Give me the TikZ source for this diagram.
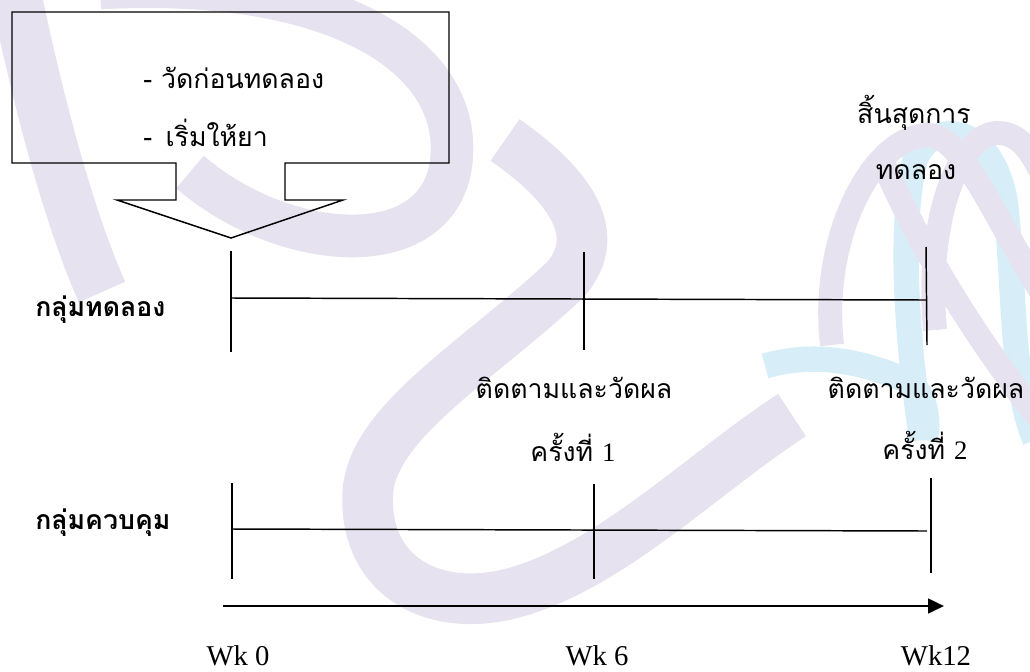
\documentclass[tikz,border=0pt]{standalone}
\usepackage{fontspec}
\setmainfont{Liberation Serif}
\newfontfamily\thai[Script=Thai]{Loma}
\usetikzlibrary{arrows.meta}
\definecolor{wmlav}{RGB}{231,226,240}
\definecolor{wmcyan}{RGB}{215,238,248}
\begin{document}
\begin{tikzpicture}[x=0.75pt,y=-0.75pt,
  thaitxt/.style={font=\thai\fontsize{20}{24}\selectfont, inner sep=0pt},
  grp/.style={font=\thai\bfseries\fontsize{20}{24}\selectfont, inner sep=0pt},
  wk/.style={font=\fontsize{21.5}{26}\selectfont, inner sep=0pt},
  ln/.style={line width=1.1pt, black},
  axis/.style={line width=2pt, black, -{Triangle[length=12pt,width=11pt]}},
  wm/.style={line width=38pt, wmlav},
  wmc/.style={line width=19pt, wmcyan}
]
\useasboundingbox (0,0) rectangle (1030,671);
% watermark
\begin{scope}
\clip (0,0) rectangle (1030,671);
\draw[wm] (15,-10) .. controls (40,110) and (70,220) .. (102,292);
\draw[wm, line width=32pt] (100,-12) .. controls (340,-25) and (470,60) .. (450,170) .. controls (430,265) and (280,250) .. (190,172);
\draw[wm] (505,140) .. controls (570,185) and (605,235) .. (565,280) .. controls (480,360) and (375,420) .. (368,490) .. controls (362,570) and (425,612) .. (505,595) .. controls (605,572) and (700,475) .. (792,415);
\draw[wmc] (765,366) .. controls (820,350) and (870,365) .. (905,380) .. controls (925,390) and (930,420) .. (925,440);
\draw[wmc] (922,440) .. controls (905,330) and (900,220) .. (915,160) .. controls (930,120) and (990,120) .. (1005,200) .. controls (1015,280) and (1010,380) .. (1035,440);
\draw[wm, line width=18pt] (832,345) .. controls (820,240) and (870,140) .. (925,135) .. controls (960,133) and (985,200) .. (1040,290);
\draw[wm, line width=18pt] (882,160) .. controls (925,260) and (985,350) .. (1040,420);
\draw[wm, line width=18pt] (935,330) .. controls (925,220) and (960,130) .. (1000,133) .. controls (1020,135) and (1030,150) .. (1040,170);
\end{scope}
% callout
\draw[ln] (12,163) -- (12,12) -- (449,12) -- (449,163) -- (285,163) -- (285,200) -- (343,200) -- (231,238) -- (117,200) -- (176,200) -- (176,163) -- cycle;
\node[thaitxt, anchor=west] (pre1) at (143,78) {- วัดก่อนทดลอง};
\node[thaitxt, anchor=west] (pre2) at (143,133) {- \,เริ่มให้ยา};
\node[thaitxt] (end1) at (914,113) {สิ้นสุดการ};
\node[thaitxt] (end2) at (916,172) {ทดลอง};
% experimental group
\node[grp, anchor=west] (gexp) at (35,310) {กลุ่มทดลอง};
\coordinate (e0t) at (231,251); \coordinate (e0b) at (231,352);
\coordinate (e6t) at (584,252); \coordinate (e6b) at (584,350);
\coordinate (e12t) at (926,247); \coordinate (e12b) at (927,345);
\coordinate (e0m) at (231,298); \coordinate (e12m) at (926,300);
\draw[ln] (e0t) -- (e0b);
\draw[ln] (e6t) -- (e6b);
\draw[ln] (e12t) -- (e12b);
\draw[ln] (e0m) -- (e12m);
\node[thaitxt] (f1a) at (574,388) {ติดตามและวัดผล};
\node[thaitxt] (f1b) at (573,447) {ครั้งที่ {\fontspec{Liberation Serif}1}};
\node[thaitxt] (f2a) at (926,388) {ติดตามและวัดผล};
\node[thaitxt] (f2b) at (925,445) {ครั้งที่ {\fontspec{Liberation Serif}2}};
% control group
\node[grp, anchor=west] (gctl) at (35,523) {กลุ่มควบคุม};
\coordinate (c0t) at (232,483); \coordinate (c0b) at (232,579);
\coordinate (c6t) at (594,484); \coordinate (c6b) at (594,579);
\coordinate (c12t) at (931,478); \coordinate (c12b) at (931,573);
\coordinate (c0m) at (232,529); \coordinate (c12m) at (927,531);
\draw[ln] (c0t) -- (c0b);
\draw[ln] (c6t) -- (c6b);
\draw[ln] (c12t) -- (c12b);
\draw[ln] (c0m) -- (c12m);
% time axis
\coordinate (ax0) at (223,606); \coordinate (ax1) at (944,606);
\draw[axis] (ax0) -- (ax1);
\node[wk, anchor=base] (w0) at (238,665) {Wk 0};
\node[wk, anchor=base] (w6) at (597,665) {Wk 6};
\node[wk, anchor=base] (w12) at (936,665) {Wk12};
\end{tikzpicture}
\end{document}
